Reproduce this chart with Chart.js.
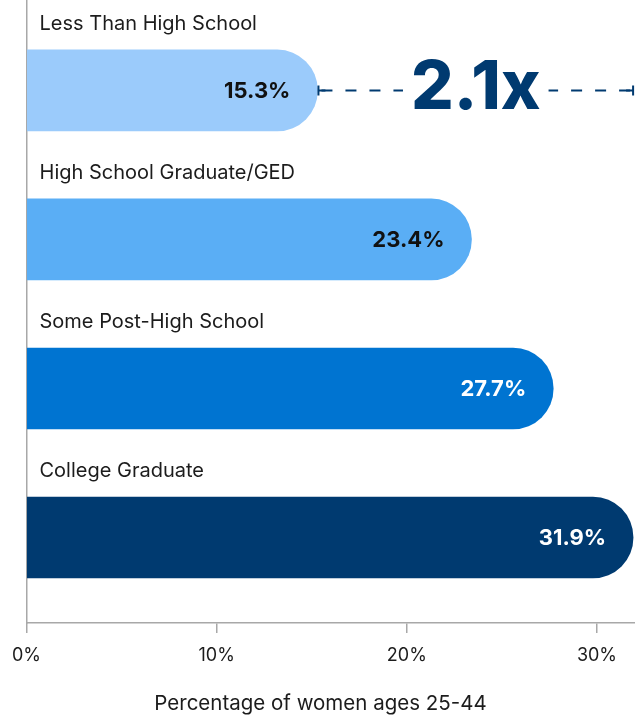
<!DOCTYPE html>
<html>
<head>
<meta charset="utf-8">
<script src="https://cdn.jsdelivr.net/npm/chart.js@4"></script>
<style>
  html, body { margin: 0; padding: 0; background: #fff; }
  #wrap { width: 635px; height: 715px; position: relative; }
</style>
</head>
<body>
<div id="wrap"><canvas id="graficoEducacao"></canvas></div>
<script>
const categorias = ['Less Than High School', 'High School Graduate/GED', 'Some Post-High School', 'College Graduate'];
const valores = [15.3, 23.4, 27.7, 31.9];
const coresBarras = ['#9bcbfb', '#5aaef5', '#0074d1', '#003a70'];
const coresValores = ['#111111', '#111111', '#ffffff', '#ffffff'];
const ticksX = [0, 10, 20, 30];
const tituloX = 'Percentage of women ages 25-44';

const FONTE = 'Inter, "Noto Sans", sans-serif';
const AZUL_ESCURO = '#003a70';

// rotulos das categorias (acima das barras), valores, titulo do eixo e a comparacao 2.1x
const rotulos = {
  id: 'rotulos',
  afterDatasetsDraw(chart) {
    const ctx = chart.ctx;
    const barras = chart.getDatasetMeta(0).data;
    const area = chart.chartArea;
    ctx.save();
    ctx.textBaseline = 'middle';
    barras.forEach((barra, i) => {
      ctx.font = '400 20px ' + FONTE;
      ctx.fillStyle = '#1c1c1c';
      ctx.textAlign = 'left';
      ctx.fillText(categorias[i], area.left + 13, barra.y - 66);

      ctx.font = '700 22px ' + FONTE;
      ctx.fillStyle = coresValores[i];
      ctx.textAlign = 'right';
      ctx.fillText(valores[i].toFixed(1) + '%', barra.x - 27, barra.y + 1);
    });

    // titulo do eixo x, centrado na largura toda
    ctx.font = '400 20.5px ' + FONTE;
    ctx.fillStyle = '#1c1c1c';
    ctx.textAlign = 'center';
    ctx.fillText(tituloX, chart.width / 2 + 3, chart.height - 11);

    // linha tracejada da primeira barra ate o valor da ultima
    const primeira = barras[0];
    const ultima = valores.length - 1;
    const x0 = primeira.x;
    const x1 = chart.scales.x.getPixelForValue(valores[ultima]) + 1;
    const y = primeira.y;
    const meio = (x0 + x1) / 2;
    const texto = (valores[ultima] / valores[0]).toFixed(1) + 'x';

    ctx.font = '800 67px ' + FONTE;
    const larg = ctx.measureText(texto).width;

    ctx.strokeStyle = AZUL_ESCURO;
    ctx.lineWidth = 2;
    ctx.setLineDash([11, 13]);
    ctx.beginPath();
    ctx.moveTo(x0 + 4, y);
    ctx.lineTo(meio - larg / 2 - 8, y);
    ctx.moveTo(x1 - 4, y);
    ctx.lineTo(meio + larg / 2 + 8, y);
    ctx.stroke();
    ctx.setLineDash([]);
    ctx.beginPath();
    ctx.moveTo(x0, y); ctx.lineTo(x0 + 8, y);
    ctx.moveTo(x0 + 1, y - 5); ctx.lineTo(x0 + 1, y + 5);
    ctx.moveTo(x1, y); ctx.lineTo(x1 - 8, y);
    ctx.moveTo(x1 - 1, y - 5); ctx.lineTo(x1 - 1, y + 5);
    ctx.stroke();

    ctx.fillStyle = AZUL_ESCURO;
    ctx.textAlign = 'center';
    ctx.fillText(texto, meio, y - 2);
    ctx.restore();
  }
};

const ctx = document.getElementById('graficoEducacao').getContext('2d');

const chart = new Chart(ctx, {
  type: 'bar',
  data: {
    datasets: [{
      data: valores.map((v, i) => ({ x: v, y: i })),
      backgroundColor: coresBarras,
      borderWidth: 0,
      borderRadius: 41,
      barThickness: 81
    }]
  },
  options: {
    indexAxis: 'y',
    responsive: true,
    maintainAspectRatio: false,
    animation: false,
    layout: { padding: 0 },
    plugins: {
      legend: { display: false },
      tooltip: { enabled: false }
    },
    scales: {
      x: {
        type: 'linear',
        min: 0,
        max: 32,
        afterFit: s => { s.height = 92; },
        afterBuildTicks: s => { s.ticks = ticksX.map(v => ({ value: v })); },
        ticks: {
          padding: 12,
          color: '#1c1c1c',
          font: { family: FONTE, size: 18 },
          callback: v => v + '%'
        },
        grid: { drawOnChartArea: false, drawTicks: true, tickLength: 10, color: '#a8a8a8', lineWidth: 1.5 },
        border: { display: true, color: '#a8a8a8', width: 1.5 },
        title: { display: false }
      },
      y: {
        type: 'linear',
        reverse: true,
        offset: false,
        min: -0.607,
        max: 3.574,
        afterFit: s => { s.width = 25; },
        ticks: { display: false },
        grid: { display: false },
        border: { display: true, color: '#a8a8a8', width: 1.5 }
      }
    }
  },
  plugins: [rotulos]
});
</script>
</body>
</html>
